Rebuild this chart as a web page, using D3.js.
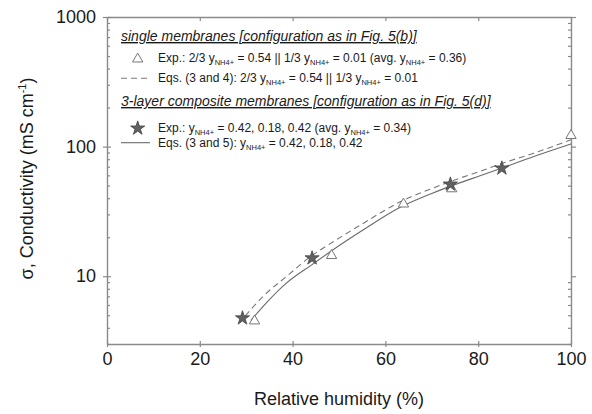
<!DOCTYPE html>
<html>
<head>
<meta charset="utf-8">
<script src="https://cdn.jsdelivr.net/npm/d3@7"></script>
<style>
  body { margin: 0; background: #fff; }
  text { font-family: "Liberation Sans", Arial, sans-serif; }
</style>
</head>
<body>
<div id="graph"></div>
<script>
// single membranes: open triangles + dashed model curve
var tri_rh = [31.8, 48.4, 63.9, 74.3, 100];
var tri_sigma = [4.6, 14.7, 36.7, 48.1, 124];
var dash_rh = [29.8, 34, 38.6, 44, 48.5, 55, 63.2, 70, 76, 80.4, 85, 92, 100];
var dash_sigma = [4.95, 7.2, 9.9, 14.3, 18.2, 25.3, 37.5, 47.5, 57, 64.5, 74, 89, 113];

// 3-layer composite: stars + solid model curve
var star_rh = [29.2, 44.2, 74.0, 85.1];
var star_sigma = [4.75, 13.8, 51.2, 68.1];
var solid_rh = [31, 35, 38.6, 44.2, 48.5, 55, 63.2, 70, 76, 80.4, 85, 92, 100];
var solid_sigma = [4.56, 6.6, 8.8, 12.3, 15.8, 22.5, 34, 43.5, 52.5, 59.5, 68, 84, 105];

var x_ticks = [0, 20, 40, 60, 80, 100];
var y_ticks = [10, 100, 1000];

var margin = {top: 17, right: 21, bottom: 70, left: 107};
var width = 592 - margin.left - margin.right;
var height = 414 - margin.top - margin.bottom;
var axis_col = "#8a8a8a";
var text_col = "#1a1a1a";

var svg = d3.select("#graph").append("svg")
	.attr("width", 592)
	.attr("height", 414)
	.append("g")
	.attr("transform", "translate(" + margin.left + "," + margin.top + ")");

var scale_rh = d3.scaleLinear().domain([0, 100]).range([0, width]);
var scale_sigma = d3.scaleLog().domain([3, 1000]).range([height, 0]);

// minor ticks of the log axis
var minor = [];
[1, 10, 100].forEach(function(dec) {
	for (var k = 2; k <= 9; k++) {
		var v = k * dec;
		if (v >= 3 && v < 1000 && y_ticks.indexOf(v) < 0) minor.push(v);
	}
});

function styleAxis(g) {
	g.select(".domain").attr("stroke", axis_col).attr("stroke-width", 1.4);
	g.selectAll(".tick line").attr("stroke", axis_col).attr("stroke-width", 1.2);
	g.selectAll(".tick text")
		.attr("fill", text_col)
		.style("font-size", "18px")
		.style("font-family", "'Liberation Sans', Arial, sans-serif");
}

// bottom axis
var gx = svg.append("g")
	.attr("transform", "translate(0," + height + ")")
	.call(d3.axisBottom(scale_rh).tickValues(x_ticks).tickSize(3).tickPadding(5).tickSizeOuter(0));
gx.selectAll(".tick line").attr("y1", -3);
styleAxis(gx);
gx.selectAll(".tick text").attr("dy", "0.71em");

// top axis
var gt = svg.append("g")
	.call(d3.axisTop(scale_rh).tickValues(x_ticks).tickSize(-4).tickSizeOuter(0).tickFormat(""));
styleAxis(gt);

// left axis
var gy = svg.append("g")
	.call(d3.axisLeft(scale_sigma).tickValues(y_ticks).tickSize(4).tickPadding(7)
		.tickFormat(d3.format("d")).tickSizeOuter(0));
gy.selectAll(".tick line").attr("x2", -4).attr("x1", 4);
styleAxis(gy);
svg.append("g")
	.call(d3.axisLeft(scale_sigma).tickValues(minor).tickSize(-3).tickFormat(""))
	.call(function(g) { g.select(".domain").remove(); })
	.call(styleAxis);

// right axis
var gr = svg.append("g")
	.attr("transform", "translate(" + width + ",0)")
	.call(d3.axisRight(scale_sigma).tickValues(y_ticks).tickSize(5).tickFormat("").tickSizeOuter(0));
styleAxis(gr);
svg.append("g")
	.attr("transform", "translate(" + width + ",0)")
	.call(d3.axisRight(scale_sigma).tickValues(minor).tickSize(-3).tickFormat(""))
	.call(function(g) { g.select(".domain").remove(); })
	.call(styleAxis);

// model curves
var line = d3.line()
	.x(function(d) { return scale_rh(d[0]); })
	.y(function(d) { return scale_sigma(d[1]); })
	.curve(d3.curveMonotoneX);

svg.append("path")
	.attr("fill", "none")
	.attr("stroke", "#777")
	.attr("stroke-width", 1.1)
	.attr("stroke-dasharray", "6,4")
	.attr("d", line(d3.zip(dash_rh, dash_sigma)));

svg.append("path")
	.attr("fill", "none")
	.attr("stroke", "#6a6a6a")
	.attr("stroke-width", 1.1)
	.attr("d", line(d3.zip(solid_rh, solid_sigma)));

// markers
var tri = d3.symbol().type(d3.symbolTriangle).size(46);
var star = d3.symbol().type(d3.symbolStar).size(62);

svg.selectAll(".tri")
	.data(d3.zip(tri_rh, tri_sigma))
	.enter().append("path")
	.attr("class", "tri")
	.attr("transform", function(d) { return "translate(" + scale_rh(d[0]) + "," + (scale_sigma(d[1]) + 1) + ")"; })
	.attr("d", tri)
	.attr("fill", "#fff")
	.attr("stroke", "#777")
	.attr("stroke-width", 1);

svg.selectAll(".star")
	.data(d3.zip(star_rh, star_sigma))
	.enter().append("path")
	.attr("class", "star")
	.attr("transform", function(d) { return "translate(" + scale_rh(d[0]) + "," + scale_sigma(d[1]) + ")"; })
	.attr("d", star)
	.attr("fill", "#616161")
	.attr("stroke", "#444")
	.attr("stroke-width", 0.8);

// axis titles
svg.append("text")
	.attr("x", width / 2)
	.attr("y", height + 61)
	.style("text-anchor", "middle")
	.style("font-size", "18px")
	.attr("fill", text_col)
	.text("Relative humidity (%)");

var yt = svg.append("text")
	.attr("transform", "translate(" + (-74) + "," + (height / 2 - 2) + ") rotate(-90)")
	.style("text-anchor", "middle")
	.style("font-size", "18px")
	.attr("fill", text_col);
yt.append("tspan").text("\u03c3, Conductivity (mS cm");
yt.append("tspan").attr("dy", -7).style("font-size", "11px").text("-1");
yt.append("tspan").attr("dy", 7).text(")");

// legend
var leg = svg.append("g").attr("transform", "translate(" + (-margin.left) + "," + (-margin.top) + ")");

function legTitle(y, txt) {
	leg.append("text")
		.attr("x", 121)
		.attr("y", y)
		.style("font-size", "14px")
		.style("font-style", "italic")
		.style("text-decoration", "underline")
		.attr("fill", text_col)
		.text(txt);
}

// parts: plain strings, or {sub: "..."} for subscript
function legText(y, parts) {
	var t = leg.append("text")
		.attr("x", 158)
		.attr("y", y)
		.style("font-size", "12px")
		.attr("fill", text_col);
	var low = false;
	parts.forEach(function(p) {
		if (typeof p === "string") {
			t.append("tspan").attr("dy", low ? -3 : 0).text(p);
			low = false;
		} else {
			t.append("tspan").attr("dy", 3).style("font-size", "7.5px").text(p.sub);
			low = true;
		}
	});
}

legTitle(41, "single membranes [configuration as in Fig. 5(b)]");
leg.append("path")
	.attr("transform", "translate(137.7,59)")
	.attr("d", tri)
	.attr("fill", "#fff").attr("stroke", "#777");
legText(62, ["Exp.: 2/3 y", {sub: "NH4+"}, " = 0.54 || 1/3 y", {sub: "NH4+"}, " = 0.01 (avg. y", {sub: "NH4+"}, " = 0.36)"]);
leg.append("line")
	.attr("x1", 121).attr("x2", 148).attr("y1", 78.3).attr("y2", 78.3)
	.attr("stroke", "#777").attr("stroke-width", 1.1).attr("stroke-dasharray", "6,4");
legText(82, ["Eqs. (3 and 4): 2/3 y", {sub: "NH4+"}, " = 0.54 || 1/3 y", {sub: "NH4+"}, " = 0.01"]);

legTitle(106, "3-layer composite membranes [configuration as in Fig. 5(d)]");
leg.append("path")
	.attr("transform", "translate(137.7,128.3)")
	.attr("d", star)
	.attr("fill", "#616161").attr("stroke", "#444").attr("stroke-width", 0.8);
legText(132, ["Exp.: y", {sub: "NH4+"}, " = 0.42, 0.18, 0.42 (avg. y", {sub: "NH4+"}, " = 0.34)"]);
leg.append("line")
	.attr("x1", 121).attr("x2", 150).attr("y1", 142.7).attr("y2", 142.7)
	.attr("stroke", "#6a6a6a").attr("stroke-width", 1.1);
legText(147, ["Eqs. (3 and 5): y", {sub: "NH4+"}, " = 0.42, 0.18, 0.42"]);
</script>
</body>
</html>
